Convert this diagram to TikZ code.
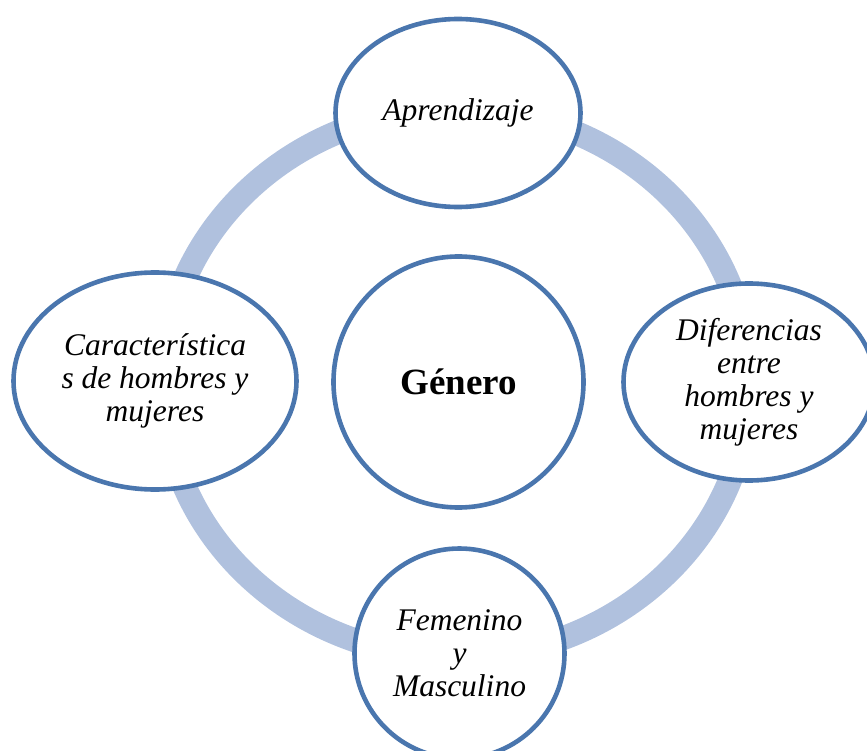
\documentclass[tikz,border=0pt]{standalone}
\usepackage{fontspec}
\setmainfont{Liberation Serif}
\usetikzlibrary{shapes.geometric}
\definecolor{rimblue}{HTML}{4A76AE}
\definecolor{ringblue}{HTML}{B0C1DE}
\tikzset{
    topic/.style={
           ellipse,
           draw=rimblue, line width=4.6pt,
           fill=white,
           inner sep=0pt,
           align=center,
           font=\fontsize{31.5}{33}\selectfont\itshape,
           },
}

\begin{document}
\begin{tikzpicture}[x=1pt,y=-1pt]
\useasboundingbox (0,0) rectangle (867,751);
\draw[ringblue, line width=24pt] (456,383) ellipse (293pt and 274pt);
\node[topic, minimum width=245pt, minimum height=188pt] (apr) at (458,113) {Aprendizaje};
\node[topic, minimum width=250pt, minimum height=251pt, font=\fontsize{37}{40}\selectfont\bfseries] (gen) at (458.5,382) {Género};
\node[topic, minimum width=283pt, minimum height=217pt] (car) at (155,381) {Característica\\s de hombres y\\mujeres};
\node[topic, minimum width=251pt, minimum height=197pt] (dif) at (749,382) {Diferencias\\entre\\hombres y\\mujeres};
\node[topic, minimum width=210pt, minimum height=210pt] (fem) at (459.5,653.5) {Femenino\\y\\Masculino};
\end{tikzpicture}
\end{document}
